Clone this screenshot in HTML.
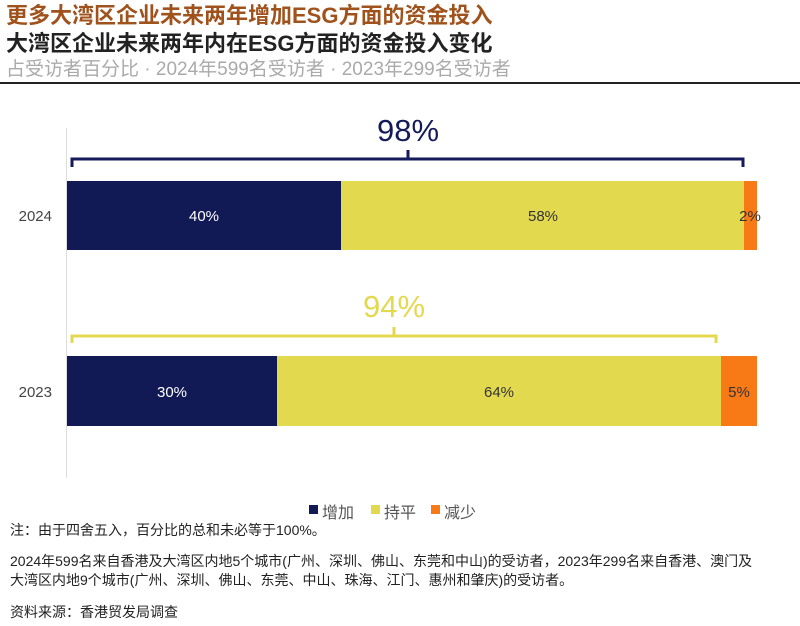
<!DOCTYPE html>
<html><head><meta charset="utf-8"><style>
body{margin:0;width:800px;height:626px;background:#fff;font-family:"Liberation Sans","Noto Sans CJK SC",sans-serif;position:relative;overflow:hidden}
.t{position:absolute;left:6px;white-space:nowrap}
</style></head><body>
<div class="t" style="top:3px;font-size:22px;line-height:26px;font-weight:bold;color:#a0521d">更多大湾区企业未来两年增加ESG方面的资金投入</div>
<div class="t" style="top:31px;font-size:22px;line-height:26px;font-weight:bold;color:#222">大湾区企业未来两年内在ESG方面的资金投入变化</div>
<div class="t" style="top:58px;font-size:19px;line-height:23px;color:#aaa">占受访者百分比 · 2024年599名受访者 · 2023年299名受访者</div>
<div style="position:absolute;left:0;top:82px;width:800px;height:2px;background:#222"></div>
<svg width="800" height="626" style="position:absolute;left:0;top:0" font-family="Liberation Sans, sans-serif">
<line x1="66.5" y1="128" x2="66.5" y2="478" stroke="#ddd" stroke-width="1"/>
<path d="M72 167 V159 H743 V167 M408 159 V150" fill="none" stroke="#141a5a" stroke-width="3"/>
<text x="408" y="141" font-size="31" fill="#141a5a" text-anchor="middle">98%</text>
<rect x="67" y="181" width="274" height="69" fill="#121a56"/>
<rect x="341" y="181" width="403" height="69" fill="#e3d94f"/>
<rect x="744" y="181" width="13" height="69" fill="#f77a16"/>
<text x="204" y="221" font-size="15" fill="#fff" text-anchor="middle">40%</text>
<text x="543" y="221" font-size="15" fill="#333" text-anchor="middle">58%</text>
<text x="750" y="221" font-size="15" fill="#333" text-anchor="middle">2%</text>
<text x="52" y="221" font-size="15" fill="#444" text-anchor="end">2024</text>
<path d="M72 343 V336 H716 V343 M394 336 V327" fill="none" stroke="#e3d94f" stroke-width="3"/>
<text x="394" y="317" font-size="31" fill="#e3d94f" text-anchor="middle">94%</text>
<rect x="67" y="356" width="210" height="70" fill="#121a56"/>
<rect x="277" y="356" width="444" height="70" fill="#e3d94f"/>
<rect x="721" y="356" width="36" height="70" fill="#f77a16"/>
<text x="172" y="397" font-size="15" fill="#fff" text-anchor="middle">30%</text>
<text x="499" y="397" font-size="15" fill="#333" text-anchor="middle">64%</text>
<text x="739" y="397" font-size="15" fill="#333" text-anchor="middle">5%</text>
<text x="52" y="397" font-size="15" fill="#444" text-anchor="end">2023</text>
<rect x="309" y="505" width="9" height="9" fill="#121a56"/>
<rect x="371" y="505" width="9" height="9" fill="#e3d94f"/>
<rect x="431" y="505" width="9" height="9" fill="#f77a16"/>
</svg>
<div class="t" style="left:322px;top:499px;font-size:16px;color:#555">增加</div>
<div class="t" style="left:384px;top:499px;font-size:16px;color:#555">持平</div>
<div class="t" style="left:444px;top:499px;font-size:16px;color:#555">减少</div>
<div class="t" style="top:520px;font-size:14px;color:#222;left:10px">注：由于四舍五入，百分比的总和未必等于100%。</div>
<div class="t" style="top:552px;font-size:14px;color:#222;left:10px;line-height:19px">2024年599名来自香港及大湾区内地5个城市(广州、深圳、佛山、东莞和中山)的受访者，2023年299名来自香港、澳门及<br>大湾区内地9个城市(广州、深圳、佛山、东莞、中山、珠海、江门、惠州和肇庆)的受访者。</div>
<div class="t" style="top:602px;font-size:14px;color:#222;left:10px">资料来源：香港贸发局调查</div>
</body></html>
